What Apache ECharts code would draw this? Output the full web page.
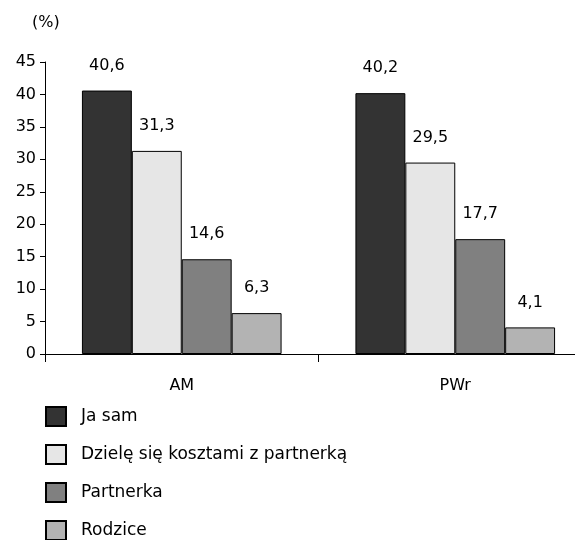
<!DOCTYPE html>
<html><head><meta charset="utf-8">
<script src="https://cdn.jsdelivr.net/npm/echarts@6/dist/echarts.min.js"></script>
<style>html,body{margin:0;padding:0;background:#fff;overflow:hidden}#c{width:592px;height:540px}</style>
</head><body><div id="c"></div>
<script>
const categories = ['AM', 'PWr'];
const seriesNames = ['Ja sam', 'Dzielę się kosztami z partnerką', 'Partnerka', 'Rodzice'];
const jaSam = [40.6, 40.2];
const dziele = [31.3, 29.5];
const partnerka = [14.6, 17.7];
const rodzice = [6.3, 4.1];
const yTicks = [0, 5, 10, 15, 20, 25, 30, 35, 40, 45];
const colors = ['#333333', '#e6e6e6', '#808080', '#b3b3b3'];
const values = [jaSam, dziele, partnerka, rodzice];
const FONT = '"DejaVu Sans", "Noto Sans", sans-serif';

const chart = echarts.init(document.getElementById('c'), null, {renderer: 'canvas'});
chart.setOption({
  animation: false,
  backgroundColor: '#fff',
  textStyle: {fontFamily: FONT},
  title: {text: '(%)', left: 32, top: 15, padding: 0, textStyle: {fontSize: 16, fontWeight: 'normal', color: '#000', fontFamily: FONT}},
  grid: {left: 45, right: 0, top: 62, height: 292, containLabel: false},
  legend: {
    orient: 'vertical', left: 45, top: 406, height: 300, padding: 0,
    itemWidth: 20, itemHeight: 19, itemGap: 17,
    icon: 'rect',
    textStyle: {fontSize: 17, lineHeight: 19, color: '#000', fontFamily: FONT, padding: [0, 0, 0, 10]},
    data: seriesNames
  },
  xAxis: {
    type: 'category', data: categories,
    axisLine: {lineStyle: {color: '#000', width: 1}},
    axisTick: {show: true, length: 8, lineStyle: {color: '#000'}},
    axisLabel: {fontSize: 16, color: '#000', margin: 24, fontFamily: FONT}
  },
  yAxis: {
    type: 'value', min: yTicks[0], max: yTicks[yTicks.length - 1], interval: 5,
    axisLine: {show: true, lineStyle: {color: '#000', width: 1}},
    axisTick: {show: true, length: 5, lineStyle: {color: '#000'}},
    splitLine: {show: false},
    axisLabel: {fontSize: 16, color: '#000', margin: 9, fontFamily: FONT}
  },
  series: seriesNames.map((n, i) => ({
    name: n, type: 'bar', data: values[i],
    barGap: '0%', barCategoryGap: '27%',
    itemStyle: {color: colors[i], borderColor: '#000', borderWidth: 1},
    label: {show: true, position: 'top', distance: 17, fontSize: 16, color: '#000', fontFamily: FONT,
      formatter: p => String(p.value).replace('.', ',')}
  }))
});
</script></body></html>
